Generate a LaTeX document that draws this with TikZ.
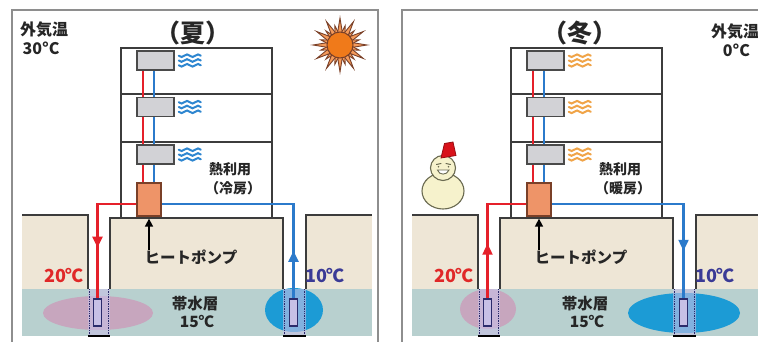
\documentclass[tikz,border=0pt]{standalone}
\usepackage{fontspec}
\setmainfont{Noto Sans CJK JP}
\usetikzlibrary{arrows.meta,decorations.markings,calc}

\definecolor{frameg}{HTML}{8E8E8E}
\definecolor{bldg}{HTML}{3C3C3C}
\definecolor{groundc}{HTML}{EEE6D6}
\definecolor{aquic}{HTML}{B8D0CF}
\definecolor{warmc}{HTML}{C7A6BE}
\definecolor{coolc}{HTML}{1C9BD5}
\definecolor{pipered}{HTML}{E5202A}
\definecolor{pipeblue}{HTML}{2B7ACB}
\definecolor{hpfill}{HTML}{EE9468}
\definecolor{hpedge}{HTML}{7A4028}
\definecolor{unitfill}{HTML}{D2D2D6}
\definecolor{unitedge}{HTML}{4A4A4A}
\definecolor{wavecool}{HTML}{2E86D0}
\definecolor{wavewarm}{HTML}{F0A448}
\definecolor{wellc}{HTML}{C8C0E6}
\definecolor{welledge}{HTML}{2C2C6C}
\definecolor{templow}{HTML}{3A3A96}
\definecolor{temphigh}{HTML}{E02828}
\definecolor{sunc}{HTML}{F07A1A}
\definecolor{rayc}{HTML}{F49A5A}
\definecolor{snowc}{HTML}{F6F2CC}
\definecolor{snowedge}{HTML}{6A6A50}
\definecolor{hatc}{HTML}{D8121A}

\tikzset{
  frameline/.style={draw=frameg, line width=1.8pt},
  gline/.style={draw=bldg, line width=1.5pt},
  bline/.style={draw=bldg, line width=1.5pt},
  unitbox/.style={draw=unitedge, fill=unitfill, line width=1.6pt, minimum width=37pt, minimum height=19pt, inner sep=0pt},
  hpbox/.style={draw=hpedge, fill=hpfill, line width=1.3pt, minimum width=24pt, minimum height=33pt, inner sep=0pt},
  wellpipe/.style={draw=welledge, fill=wellc, line width=1.4pt, minimum width=8pt, minimum height=27pt, inner sep=0pt},
  redpipe/.style={draw=pipered, line width=2.2pt},
  bluepipe/.style={draw=pipeblue, line width=2.2pt},
  flowmark/.style={postaction={decorate,decoration={markings,
      mark=at position #1 with {\arrow{Triangle[length=11pt,width=10pt]}}}}},
  lbl/.style={inner sep=0pt, text=black!85},
  fs13/.style={font=\bfseries\fontsize{14}{16}\selectfont},
  fs15/.style={font=\bfseries\fontsize{15.5}{17}\selectfont},
  fs16/.style={font=\bfseries\fontsize{16}{18}\selectfont},
  fstemp/.style={font=\bfseries\fontsize{18}{20}\selectfont},
  fstitle/.style={font=\bfseries\fontsize{25}{27}\selectfont},
  waves/.pic={
    \foreach \k in {-4.8,0,4.8}{
      \draw[line width=2pt, line cap=round]
        (0,\k) sin (2.75,\k+1.3) cos (5.5,\k) sin (8.25,\k-1.3) cos (11,\k)
        sin (13.75,\k+1.3) cos (16.5,\k) sin (19.25,\k-1.3) cos (22,\k);
    }}
}

% One season panel: ground, aquifer, plumes, wells, building, units, heat pump.
% #1 name suffix, #2 left plume colour, #3 left plume path, #4 right plume colour, #5 right plume path
\newcommand\basepanel[5]{%
  \fill[groundc] (22,215) rectangle (88,289);
  \fill[groundc] (110,218) rectangle (283,289);
  \fill[groundc] (306,215) rectangle (372,289);
  \fill[aquic] (22,289) rectangle (372,336);
  \fill[#2] #3;
  \fill[#4] #5;
  % well columns
  \fill[wellc, opacity=.6] (88,289) rectangle (110,336);
  \fill[wellc, opacity=.6] (283,289) rectangle (306,336);
  \draw[welledge, densely dotted, line width=1.4pt] (89.5,289) -- (89.5,336) (108.5,289) -- (108.5,336)
       (284.5,289) -- (284.5,336) (304.5,289) -- (304.5,336);
  \draw[black, line width=2.2pt] (88,336) -- (110,336) (283,336) -- (306,336);
  \node[wellpipe] (wl#1) at (97.5,312.5) {};
  \node[wellpipe] (wr#1) at (293.5,312.5) {};
  % ground outline
  \draw[gline] (22,215) -- (88,215) -- (88,289);
  \draw[gline] (110,289) -- (110,218) -- (283,218) -- (283,289);
  \draw[gline] (306,289) -- (306,215) -- (372,215);
  % building
  \draw[bline] (121,218) -- (121,48) -- (272,48) -- (272,218);
  \draw[bline] (121,94) -- (272,94) (121,142) -- (272,142);
  % indoor units and heat pump
  \node[unitbox] (ua#1) at (155.5,60.5) {};
  \node[unitbox] (ub#1) at (155.5,107) {};
  \node[unitbox] (uc#1) at (155.5,154.5) {};
  \node[hpbox] (hp#1) at (149,199.5) {};
  \draw[redpipe] ([xshift=-12.5pt]ua#1.south) -- ([xshift=-12.5pt]ub#1.north)
                 ([xshift=-12.5pt]ub#1.south) -- ([xshift=-12.5pt]uc#1.north)
                 ([xshift=-12.5pt]uc#1.south) -- ([xshift=-6pt]hp#1.north);
  \draw[bluepipe] ([xshift=-1.5pt]ua#1.south) -- ([xshift=-1.5pt]ub#1.north)
                  ([xshift=-1.5pt]ub#1.south) -- ([xshift=-1.5pt]uc#1.north)
                  ([xshift=-1.5pt]uc#1.south) -- ([xshift=5pt]hp#1.north);
  % labels
  \node[lbl, fs15] (hplbl#1) at (191,257.5) {ヒートポンプ};
  \draw[black, line width=1.6pt, -{Triangle[length=8pt,width=8pt]}]
       (hp#1.south |- hplbl#1.north) -- ([yshift=-2pt]hp#1.south);
  \node[lbl, fs15] (aq#1) at (195,304) {帯水層};
  \node[lbl, fs15] (aqt#1) at (197,321.5) {15℃};
  \node[lbl, fstemp, text=temphigh] (th#1) at (64,275.5) {20℃};
  \node[lbl, fstemp, text=templow] (tl#1) at (325,275.5) {10℃};
}

\begin{document}
\begin{tikzpicture}[x=1pt,y=-1pt]
\useasboundingbox (0,0) rectangle (758,342);
\fill[white] (0,0) rectangle (758,342);

% panel frames
\draw[frameline] (12,345) -- (12,10) -- (378,10) -- (378,345);
\draw[frameline] (402,345) -- (402,10) -- (770,10);

% ---------- summer ----------
\basepanel{S}{warmc}{(98,313) ellipse [x radius=55, y radius=17]}{coolc}{(294,310) ellipse [x radius=29, y radius=22]}
\draw[redpipe, flowmark=0.62] ([yshift=-4.5pt]hpS.west) -| (wlS.north);
\draw[bluepipe, flowmark=0.21] (wrS.north) |- ([yshift=-4.5pt]hpS.east);
\node[hpbox] at (hpS) {};
\foreach \u in {uaS,ubS,ucS}{\pic[color=wavecool] at ([xshift=4pt]\u.east) {waves};}
\node[lbl, fs13] (useS) at (230,169) {熱利用};
\node[lbl, fs13] (modeS) at (233,188) {（冷房）};
\node[lbl, fstitle] (titleS) at (193,33) {（夏）};
\node[lbl, fs16, anchor=west] (outS) at (20,30) {外気温};
\node[lbl, fs16] (otS) at (41,48.5) {30°C};

% sun
\begin{scope}[shift={(340,45)}]
  \foreach \a in {0,30,...,330}{
    \filldraw[fill=rayc, draw=hpedge, line width=.9pt] (\a-12:12) -- (\a:27) -- (\a+12:12) -- cycle;
    \filldraw[fill=rayc, draw=hpedge, line width=.9pt] (\a+15-9:12) -- (\a+15:20) -- (\a+15+9:12) -- cycle;
  }
  \filldraw[fill=sunc, draw=hpedge, line width=1pt] (0,0) circle (13);
\end{scope}

% ---------- winter ----------
\begin{scope}[xshift=390pt]
\basepanel{W}{warmc}{(98,309) ellipse [x radius=28, y radius=20]}{coolc}{(294,313) ellipse [x radius=56, y radius=20]}
\draw[redpipe, flowmark=0.41] (wlW.north) |- ([yshift=-4.5pt]hpW.west);
\draw[bluepipe, flowmark=0.79] ([yshift=-4.5pt]hpW.east) -| (wrW.north);
\node[hpbox] at (hpW) {};
\foreach \u in {uaW,ubW,ucW}{\pic[color=wavewarm] at ([xshift=4pt]\u.east) {waves};}
\node[lbl, fs13] (useW) at (230,169) {熱利用};
\node[lbl, fs13] (modeW) at (233,188) {（暖房）};
\node[lbl, fstitle] (titleW) at (190,33.5) {（冬）};
\node[lbl, fs16, anchor=west] (outW) at (321,32) {外気温};
\node[lbl, fs16] (otW) at (346.5,50) {0°C};
\end{scope}

% snowman
\filldraw[fill=snowc, draw=snowedge, line width=1.1pt] (443,191) ellipse [x radius=21, y radius=18];
\filldraw[fill=snowc, draw=snowedge, line width=1.1pt] (443,168) circle (12.5);
\filldraw[fill=hatc, draw=hatc!70!black, line width=.8pt] (441,158) -- (456,155.5) -- (453,142) -- (444.5,143.5) -- cycle;
\draw[snowedge, line width=1pt, line cap=round] (436.5,164.5) -- (441,163.5) (446,163.5) -- (450.5,164.5);
\fill[snowedge] (438.5,166.8) circle (.9) (448.5,166.8) circle (.9);
\filldraw[fill=white, draw=snowedge, line width=.9pt] (437.5,170) .. controls (439,175.5) and (447,175.5) .. (449,170) -- cycle;
\end{tikzpicture}
\end{document}
